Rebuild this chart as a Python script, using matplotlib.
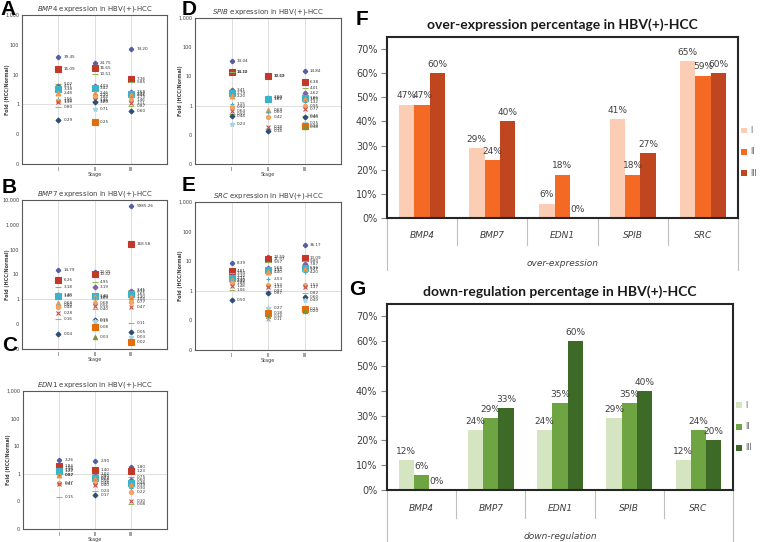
import matplotlib
matplotlib.use('Agg')
import matplotlib.pyplot as plt
import matplotlib.transforms as mtransforms
from matplotlib.ticker import PercentFormatter, NullLocator
import numpy as np

plt.rcParams['font.family'] = ['DejaVu Sans']

stages = ['I', 'II', 'III']
genes = ['BMP4', 'BMP7', 'EDN1', 'SPIB', 'SRC']

bmp4_I = [39.45, 15.09, 5.02, 4.11, 3.38, 2.48, 1.56, 1.32, 1.19, 0.80, 0.29]
bmp4_II = [24.75, 16.65, 10.51, 4.09, 3.42, 2.46, 2.10, 1.84, 1.41, 1.29, 1.20, 0.71, 0.25]
bmp4_III = [74.20, 7.36, 5.85, 2.68, 2.32, 2.01, 1.73, 1.46, 1.11, 0.87, 0.60]

bmp7_I = [14.79, 6.26, 3.18, 1.48, 1.40, 0.68, 0.60, 0.48, 0.28, 0.16, 0.04]
bmp7_II = [12.05, 10.42, 4.95, 3.19, 1.40, 1.20, 1.09, 0.68, 0.56, 0.40, 0.15, 0.13, 0.08, 0.03]
bmp7_III = [5985.26, 168.58, 2.41, 2.12, 1.65, 1.30, 1.04, 0.77, 0.47, 0.11, 0.05, 0.03, 0.02]

edn1_I = [3.26, 1.84, 1.58, 1.39, 1.22, 0.92, 0.87, 0.47, 0.41, 0.15]
edn1_II = [2.90, 1.40, 1.02, 0.80, 0.72, 0.64, 0.56, 0.48, 0.40, 0.24, 0.17]
edn1_III = [1.80, 1.23, 0.75, 0.60, 0.48, 0.39, 0.30, 0.22, 0.10, 0.08]

spib_I = [33.04, 14.32, 14.10, 3.41, 2.79, 2.20, 1.15, 0.92, 0.64, 0.50, 0.44, 0.23]
spib_II = [10.09, 10.12, 2.00, 1.80, 1.62, 0.69, 0.60, 0.42, 0.18, 0.16, 0.14]
spib_III = [14.84, 6.38, 4.01, 2.62, 1.86, 1.63, 1.32, 0.95, 0.77, 0.44, 0.40, 0.25, 0.20, 0.18]

src_I = [8.39, 4.81, 3.94, 3.20, 2.71, 2.40, 2.12, 1.88, 1.48, 1.06, 0.50]
src_II = [13.59, 11.97, 9.57, 5.68, 4.92, 4.40, 2.53, 1.53, 1.33, 0.97, 0.87, 0.27, 0.18, 0.14, 0.11]
src_III = [36.17, 13.09, 9.80, 7.87, 5.96, 5.27, 4.20, 1.53, 1.37, 0.82, 0.60, 0.49, 0.25, 0.20]

# percentages for panels F and G
over_I = [47, 29, 6, 41, 65]
over_II = [47, 24, 18, 18, 59]
over_III = [60, 40, 0, 27, 60]

down_I = [12, 24, 24, 29, 12]
down_II = [6, 29, 35, 35, 24]
down_III = [0, 33, 60, 40, 20]

MARKERS = [
    ('P', '#4F5FA0', 3), ('s', '#C0392B', 4), ('_', '#8DB45A', 4),
    ('D', '#7E5FA8', 2.5), ('s', '#3BB3C8', 4.5), ('^', '#F79646', 3.5),
    ('+', '#4BACC6', 3), ('o', '#F4A460', 3), ('x', '#C0504D', 3),
    ('_', '#9BBB59', 4), ('D', '#2C4D75', 2.5), ('*', '#A6D4E0', 3.5),
    ('s', '#E46C0A', 4), ('^', '#77933C', 3), ('x', '#B3A2C7', 3),
]

W, H = 762, 542


def rect(left, top, right, bottom):
    return [left / W, (H - bottom) / H, (right - left) / W, (bottom - top) / H]


def letter(fig, x, y, s):
    fig.text(x / W, 1 - y / H, s, fontsize=15, fontweight='bold',
             va='top', ha='left', family='Liberation Sans')


def scatter_panel(fig, box, gene, data, ymin, ymax):
    ax = fig.add_axes(box)
    ax.set_yscale('log')
    for s, values in enumerate(data, start=1):
        for i, v in enumerate(values):
            m, c, ms = MARKERS[i % len(MARKERS)]
            ax.plot(s, v, marker=m, color=c, ms=ms, mew=0.8, ls='none', zorder=3)
            ax.annotate(f'{v:.2f}', (s, v), xytext=(4, 0), textcoords='offset points',
                        fontsize=3, va='center', color='#333333', zorder=4)
    ax.set_xlim(0, 4)
    ax.set_ylim(ymin, ymax)
    decades = 10.0 ** np.arange(np.log10(ymin), np.log10(ymax) + 0.5)
    ax.set_yticks(decades)
    ax.set_yticklabels([f'{d:,.0f}' for d in decades])
    ax.yaxis.set_minor_locator(NullLocator())
    ax.set_xticks([1, 2, 3])
    ax.set_xticklabels(stages)
    ax.grid(axis='x', color='#d9d9d9', lw=0.6, zorder=1)
    ax.axhline(1, color='#d9d9d9', lw=0.6, zorder=1)
    ax.tick_params(labelsize=3.5, length=0, pad=2, colors='#404040')
    ax.set_xlabel('Stage', fontsize=3.5, labelpad=0.5, color='#404040')
    ax.set_ylabel('Fold (HCC/Normal)', fontsize=3.5, color='#404040', fontweight='bold')
    ax.yaxis.set_label_coords(-0.083, 0.5)
    ax.set_title(rf'$\it{{{gene}}}$ expression in HBV(+)-HCC', fontsize=5, pad=3,
                 color='#404040')
    for sp in ax.spines.values():
        sp.set_color('#595959')
        sp.set_linewidth(0.8)
    return ax


def bar_panel(fig, box, title, series, colors, axis_title, legend_y, sep_depth, cat_y, title_y, outer_depth):
    ax = fig.add_axes(box)
    x = np.arange(len(genes))
    width = 0.22
    for k, (vals, col) in enumerate(zip(series, colors)):
        bars = ax.bar(x + (k - 1) * width, np.array(vals) / 100.0, width, color=col,
                      label=stages[k], zorder=2)
        for b, v in zip(bars, vals):
            ax.annotate(f'{v}%', (b.get_x() + b.get_width() / 2, b.get_height()),
                        xytext=(0, 3), textcoords='offset points', ha='center',
                        va='bottom', fontsize=6.5, color='#404040', zorder=3)
    ax.set_xlim(-0.5, 4.5)
    ax.set_ylim(0, 0.75)
    ax.set_yticks(np.arange(0, 0.71, 0.1))
    ax.yaxis.set_major_formatter(PercentFormatter(1.0, decimals=0))
    ax.set_xticks([])
    ax.tick_params(axis='y', length=4, color='#868686', labelsize=7, labelcolor='#404040', pad=3)
    for sp in ax.spines.values():
        sp.set_color('#262626')
        sp.set_linewidth(1.5)
    ax.set_title(title, fontsize=10, fontweight='bold', family='Lato', pad=6, color='#1a1a1a')

    trans = mtransforms.blended_transform_factory(ax.transData, ax.transAxes)
    for i, g in enumerate(genes):
        ax.text(i, cat_y, g, transform=trans, ha='center', va='center',
                fontsize=6.5, style='italic', color='#404040')
    for b in np.arange(0.5, 4.0, 1.0):
        ax.plot([b, b], [0, -sep_depth], transform=trans, color='#bfbfbf', lw=0.8,
                clip_on=False)
    for b in (-0.5, 4.5):
        ax.plot([b, b], [0, -outer_depth], transform=trans, color='#bfbfbf', lw=0.8,
                clip_on=False)
    ax.text(0.5, title_y, axis_title, transform=ax.transAxes, ha='center', va='center',
            fontsize=6.5, style='italic', color='#404040')

    leg = ax.legend(loc='center left', bbox_to_anchor=(1.008, legend_y), frameon=False,
                    fontsize=5.5, handlelength=0.8, handleheight=0.8, labelspacing=1.6,
                    handletextpad=0.4, borderaxespad=0, borderpad=0)
    for t in leg.get_texts():
        t.set_color('#595959')
    return ax


fig = plt.figure(figsize=(W / 100, H / 100), dpi=100)

scatter_panel(fig, rect(22, 15, 167, 164), 'BMP4', [bmp4_I, bmp4_II, bmp4_III], 0.01, 1000)
scatter_panel(fig, rect(22, 200, 167, 349), 'BMP7', [bmp7_I, bmp7_II, bmp7_III], 0.01, 10000)
scatter_panel(fig, rect(23, 391, 167, 529), 'EDN1', [edn1_I, edn1_II, edn1_III], 0.01, 1000)
scatter_panel(fig, rect(195, 18, 341, 164), 'SPIB', [spib_I, spib_II, spib_III], 0.01, 1000)
scatter_panel(fig, rect(195, 202, 341, 350), 'SRC', [src_I, src_II, src_III], 0.01, 1000)

bar_panel(fig, rect(387, 37, 738, 218), 'over-expression percentage in HBV(+)-HCC',
          [over_I, over_II, over_III], ['#FBCDB4', '#F46A24', '#BF461E'],
          'over-expression', 0.365, 0.15, -0.094, -0.25, 0.29)
bar_panel(fig, rect(387, 304, 733, 490), 'down-regulation percentage in HBV(+)-HCC',
          [down_I, down_II, down_III], ['#D5E5C1', '#6FA442', '#3E6A27'],
          'down-regulation', 0.34, 0.15, -0.10, -0.25, 0.28)

letter(fig, 0, 0, 'A')
letter(fig, 2, 178, 'B')
letter(fig, 2, 336, 'C')
letter(fig, 182, 0, 'D')
letter(fig, 182, 176, 'E')
letter(fig, 356, 10, 'F')
letter(fig, 349, 280, 'G')

fig.savefig('out.png', dpi=100)
